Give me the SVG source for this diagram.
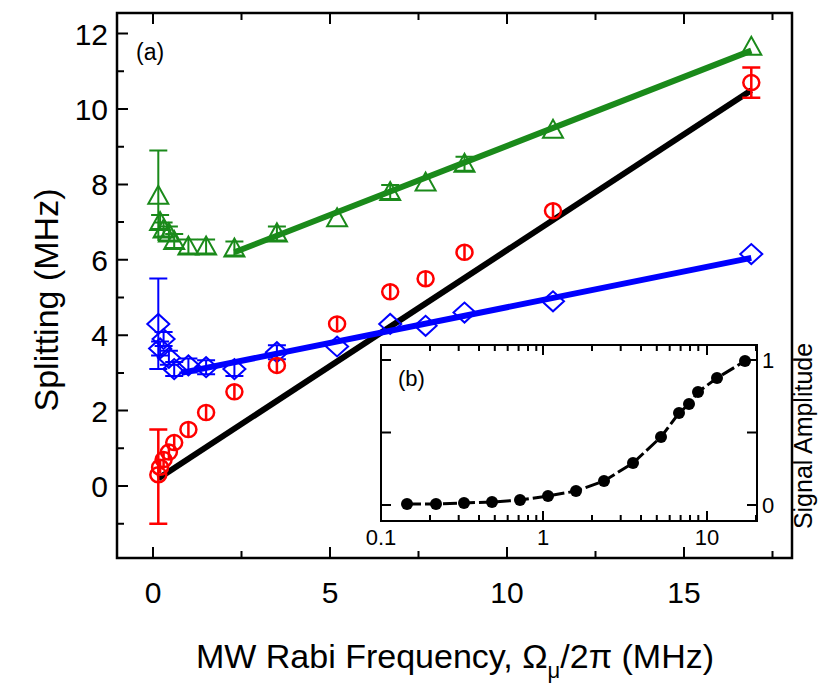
<svg xmlns="http://www.w3.org/2000/svg" xmlns:xlink="http://www.w3.org/1999/xlink" width="830" height="695" viewBox="0 0 830 695">
<style>
text{font-family:"Liberation Sans",Arial,sans-serif;fill:#000}
.ax{fill:none;stroke:#000;stroke-width:2.5}
.tk{stroke:#000;stroke-width:2}
.g{fill:none;stroke:#1a8a1a;stroke-width:2}
.b{fill:none;stroke:#0000ff;stroke-width:2}
.r{fill:none;stroke:#ff0000;stroke-width:2.5}
.tl{font-size:30px}
</style>
<defs>
<path id="tri" d="M-10,8 L10,8 L0,-10 Z"/>
<path id="dia" d="M-11,0 L0,-10 L11,0 L0,10 Z"/>
<g id="eb"><path d="M0,-7V7M-9,-7H9M-9,7H9"/></g>
</defs>
<rect x="0" y="0" width="830" height="695" fill="#fff"/>
<g id="frame">
<rect class="ax" x="117" y="13" width="675" height="545"/>
<path class="tk" d="M153,558v-11M330,558v-11M507,558v-11M684,558v-11M241.5,558v-7M418.5,558v-7M595.5,558v-7M772.5,558v-7
M153,13v11M330,13v11M507,13v11M684,13v11M241.5,13v7M418.5,13v7M595.5,13v7M772.5,13v7
M117,486h11M117,410.6h11M117,335.2h11M117,259.8h11M117,184.4h11M117,109h11M117,33.6h11
M117,523.7h7M117,448.3h7M117,372.9h7M117,297.5h7M117,222.1h7M117,146.7h7M117,71.3h7"/>
</g>
<g id="ticklabels" class="tl">
<g text-anchor="end">
<text x="108" y="497">0</text><text x="108" y="421.6">2</text><text x="108" y="346.2">4</text><text x="108" y="270.8">6</text><text x="108" y="195.4">8</text><text x="108" y="120">10</text><text x="108" y="44.6">12</text>
</g>
<g text-anchor="middle">
<text x="153" y="603">0</text><text x="330" y="603">5</text><text x="507" y="603">10</text><text x="684" y="603">15</text>
</g>
</g>
<text x="136" y="60" font-size="23">(a)</text>
<text transform="translate(58,300) rotate(-90)" text-anchor="middle" font-size="34">Splitting (MHz)</text>
<text x="455" y="668" text-anchor="middle" font-size="34">MW Rabi Frequency, Ω<tspan font-size="22" dy="10">μ</tspan><tspan dy="-10">/2π (MHz)</tspan></text>
<g id="connectors">
<line x1="158.3" y1="478.5" x2="751.3" y2="90.2" stroke="#000" stroke-width="6"/>
<line x1="234.4" y1="252.3" x2="751.3" y2="50.6" stroke="#1a8a1a" stroke-width="6"/>
<line x1="181.3" y1="372.9" x2="751.3" y2="257.9" stroke="#0000ff" stroke-width="6"/>
</g>
<g id="green" class="g">
<path d="M158.3,150.5V241M149.3,150.5H167.3"/>
<g transform="translate(158.3,195.7)"><use href="#tri"/></g>
<g transform="translate(160.1,222.1)"><use href="#tri"/><use href="#eb"/></g>
<g transform="translate(163.6,229.6)"><use href="#tri"/><use href="#eb"/></g>
<g transform="translate(168.9,233.4)"><use href="#tri"/><use href="#eb"/></g>
<g transform="translate(174.2,241)"><use href="#tri"/><use href="#eb"/></g>
<g transform="translate(188.4,246.6)"><use href="#tri"/><use href="#eb"/></g>
<g transform="translate(206.1,246.6)"><use href="#tri"/><use href="#eb"/></g>
<g transform="translate(234.4,248.5)"><use href="#tri"/><use href="#eb"/></g>
<g transform="translate(276.9,233.4)"><use href="#tri"/><use href="#eb"/></g>
<g transform="translate(337.1,218.3)"><use href="#tri"/></g>
<g transform="translate(390.2,192)"><use href="#tri"/><use href="#eb"/></g>
<g transform="translate(425.6,182.5)"><use href="#tri"/></g>
<g transform="translate(464.5,163.7)"><use href="#tri"/><use href="#eb"/></g>
<g transform="translate(553,129.7)"><use href="#tri"/></g>
<g transform="translate(751.3,46.8)"><use href="#tri"/></g>
</g>
<g id="blue" class="b">
<path d="M158.3,278.6V369M149.3,278.6H167.3M149.3,369H167.3"/>
<g transform="translate(158.3,323.9)"><use href="#dia"/></g>
<g transform="translate(160.1,348.4)"><use href="#dia"/><use href="#eb"/></g>
<g transform="translate(163.6,339)"><use href="#dia"/><use href="#eb"/></g>
<g transform="translate(168.9,357.8)"><use href="#dia"/><use href="#eb"/></g>
<g transform="translate(174.2,369.1)"><use href="#dia"/><use href="#eb"/></g>
<g transform="translate(188.4,365.4)"><use href="#dia"/><use href="#eb"/></g>
<g transform="translate(206.1,367.2)"><use href="#dia"/><use href="#eb"/></g>
<g transform="translate(234.4,369.1)"><use href="#dia"/><use href="#eb"/></g>
<g transform="translate(276.9,352.2)"><use href="#dia"/><use href="#eb"/></g>
<g transform="translate(337.1,346.5)"><use href="#dia"/></g>
<g transform="translate(390.2,323.9)"><use href="#dia"/></g>
<g transform="translate(425.6,325.8)"><use href="#dia"/></g>
<g transform="translate(464.5,312.6)"><use href="#dia"/></g>
<g transform="translate(553,301.3)"><use href="#dia"/></g>
<g transform="translate(751.3,254.1)"><use href="#dia"/></g>
</g>
<g id="red" class="r">
<path d="M158.3,429.5V523.7M149.3,429.5H167.3M149.3,523.7H167.3M751.3,67.5V97.7M742.3,67.5H760.3M742.3,97.7H760.3"/>
<ellipse cx="158.3" cy="474.7" rx="8" ry="7.5"/>
<ellipse cx="160.1" cy="467.2" rx="8" ry="7.5"/>
<ellipse cx="163.6" cy="459.6" rx="8" ry="7.5"/>
<ellipse cx="168.9" cy="452.1" rx="8" ry="7.5"/>
<ellipse cx="174.2" cy="442.6" rx="8" ry="7.5"/>
<ellipse cx="188.4" cy="429.5" rx="8" ry="7.5"/>
<ellipse cx="206.1" cy="412.5" rx="8" ry="7.5"/>
<ellipse cx="234.4" cy="391.8" rx="8" ry="7.5"/>
<ellipse cx="276.9" cy="365.4" rx="8" ry="7.5"/>
<ellipse cx="337.1" cy="323.9" rx="8" ry="7.5"/>
<ellipse cx="390.2" cy="291.8" rx="8" ry="7.5"/>
<ellipse cx="425.6" cy="278.7" rx="8" ry="7.5"/>
<ellipse cx="464.5" cy="252.3" rx="8" ry="7.5"/>
<ellipse cx="553" cy="210.8" rx="8" ry="7.5"/>
<ellipse cx="751.3" cy="82.6" rx="8" ry="7.5"/>
<path d="M160.1,461V473M163.6,453V466M168.9,445V459M174.2,436V449M188.4,423V436M206.1,406V419M234.4,385V398M276.9,359V372M337.1,317V330M390.2,285V298M425.6,272V285M464.5,246V259M553,204V217"/>
</g>
<g id="inset">
<rect x="381" y="345" width="376" height="176" fill="#fff" stroke="#000" stroke-width="2"/>
<path class="tk" d="M381,505h10M381,432.5h10M381,360h10M757,505h-10M757,432.5h-10M757,360h-10
M543,521v-10M707,521v-10M543,345v10M707,345v10
M430,521v-6M458.7,521v-6M479,521v-6M494.8,521v-6M507.7,521v-6M518.6,521v-6M528,521v-6M536.3,521v-6
M592,521v-6M620.7,521v-6M641,521v-6M656.8,521v-6M669.7,521v-6M680.6,521v-6M690,521v-6M698.3,521v-6M756,521v-6
M430,345v6M458.7,345v6M479,345v6M494.8,345v6M507.7,345v6M518.6,345v6M528,345v6M536.3,345v6
M592,345v6M620.7,345v6M641,345v6M656.8,345v6M669.7,345v6M680.6,345v6M690,345v6M698.3,345v6M756,345v6"/>
<text x="398" y="386" font-size="22">(b)</text>
<g font-size="22" text-anchor="middle">
<text x="381" y="545">0.1</text><text x="543" y="545">1</text><text x="707" y="545">10</text>
</g>
<text x="762" y="513" font-size="22">0</text><text x="762" y="368" font-size="22">1</text>
<polyline fill="none" stroke="#000" stroke-width="3" stroke-dasharray="14,4" points="407,504 436,504 464,503 492,502 520,500 548,496 576,491 604,481 633,463 661,437 679,413 689,404 698,392 717,378 745,361"/>
<g fill="#000">
<circle cx="407" cy="504" r="6"/><circle cx="436" cy="504" r="6"/><circle cx="464" cy="503" r="6"/><circle cx="492" cy="502" r="6"/><circle cx="520" cy="500" r="6"/><circle cx="548" cy="496" r="6"/><circle cx="576" cy="491" r="6"/><circle cx="604" cy="481" r="6"/><circle cx="633" cy="463" r="6"/><circle cx="661" cy="437" r="6"/><circle cx="679" cy="413" r="6"/><circle cx="689" cy="404" r="6"/><circle cx="698" cy="392" r="6"/><circle cx="717" cy="378" r="6"/><circle cx="745" cy="361" r="6"/>
</g>
</g>
<text transform="translate(812,436) rotate(-90)" text-anchor="middle" font-size="25">Signal Amplitude</text>
</svg>
